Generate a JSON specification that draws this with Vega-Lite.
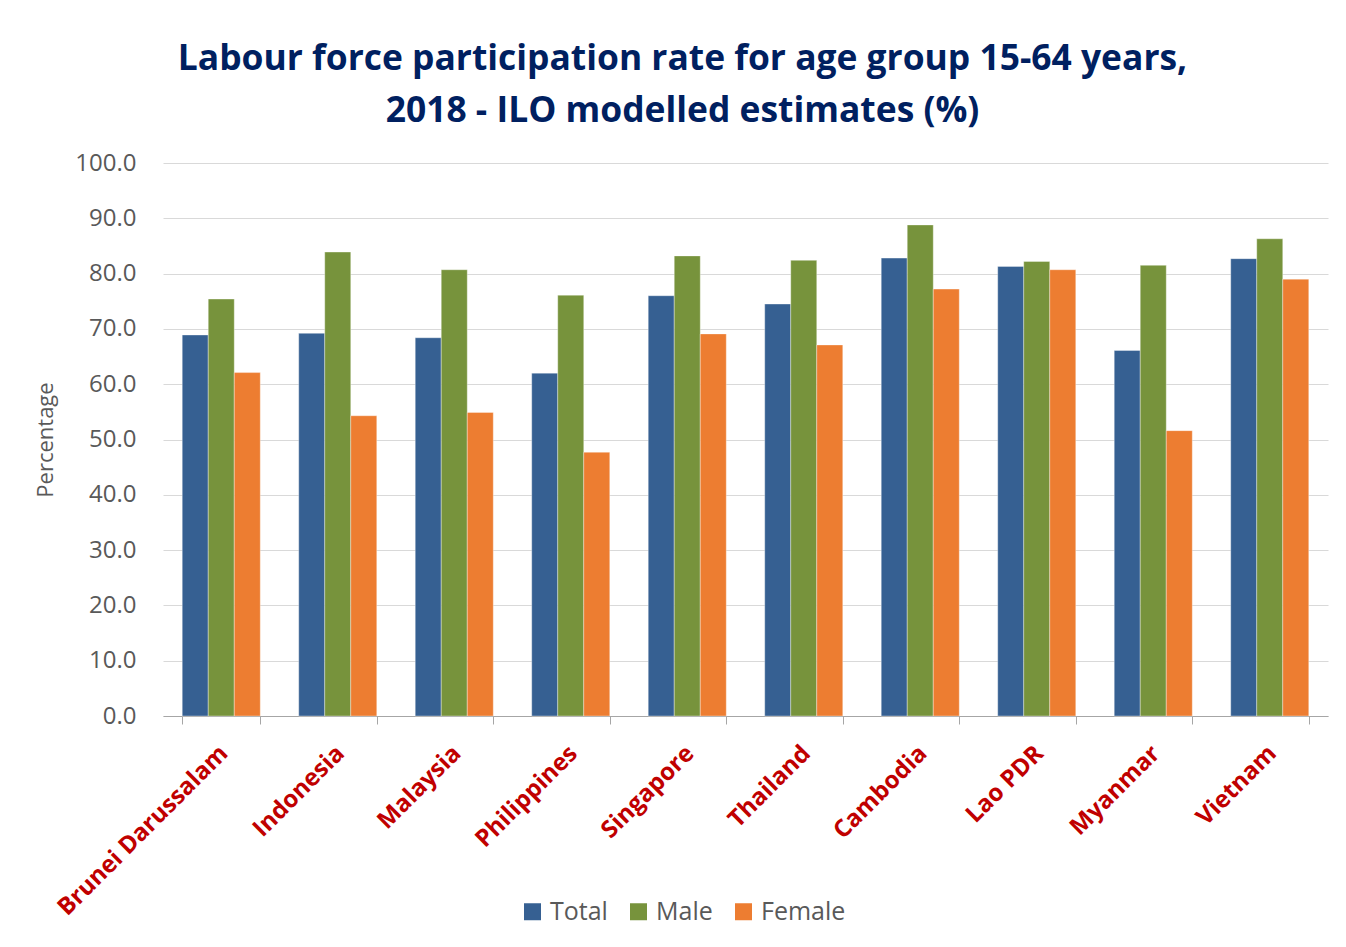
{
  "$schema": "https://vega.github.io/schema/vega-lite/v6.json",
  "width": 1165,
  "height": 553,
  "autosize": {"type": "none"},
  "padding": {"left": 163, "top": 163, "right": 18, "bottom": 231},
  "background": "white",
  "title": {
    "text": ["Labour force participation rate for age group 15-64 years,", "2018 - ILO modelled estimates (%)"],
    "font": "Open Sans",
    "fontSize": 35.4,
    "fontWeight": "bold",
    "color": "#002060",
    "anchor": "middle",
    "dx": -63,
    "offset": 22,
    "lineHeight": 52
  },
  "data": {
    "values": [
      {"country": "Brunei Darussalam", "sex": "Total", "value": 68.9},
      {"country": "Brunei Darussalam", "sex": "Male", "value": 75.4},
      {"country": "Brunei Darussalam", "sex": "Female", "value": 62.1},
      {"country": "Indonesia", "sex": "Total", "value": 69.2},
      {"country": "Indonesia", "sex": "Male", "value": 83.9},
      {"country": "Indonesia", "sex": "Female", "value": 54.3},
      {"country": "Malaysia", "sex": "Total", "value": 68.4},
      {"country": "Malaysia", "sex": "Male", "value": 80.7},
      {"country": "Malaysia", "sex": "Female", "value": 54.9},
      {"country": "Philippines", "sex": "Total", "value": 62.0},
      {"country": "Philippines", "sex": "Male", "value": 76.1},
      {"country": "Philippines", "sex": "Female", "value": 47.7},
      {"country": "Singapore", "sex": "Total", "value": 76.0},
      {"country": "Singapore", "sex": "Male", "value": 83.2},
      {"country": "Singapore", "sex": "Female", "value": 69.1},
      {"country": "Thailand", "sex": "Total", "value": 74.5},
      {"country": "Thailand", "sex": "Male", "value": 82.4},
      {"country": "Thailand", "sex": "Female", "value": 67.1},
      {"country": "Cambodia", "sex": "Total", "value": 82.8},
      {"country": "Cambodia", "sex": "Male", "value": 88.8},
      {"country": "Cambodia", "sex": "Female", "value": 77.2},
      {"country": "Lao PDR", "sex": "Total", "value": 81.3},
      {"country": "Lao PDR", "sex": "Male", "value": 82.2},
      {"country": "Lao PDR", "sex": "Female", "value": 80.7},
      {"country": "Myanmar", "sex": "Total", "value": 66.1},
      {"country": "Myanmar", "sex": "Male", "value": 81.5},
      {"country": "Myanmar", "sex": "Female", "value": 51.6},
      {"country": "Vietnam", "sex": "Total", "value": 82.7},
      {"country": "Vietnam", "sex": "Male", "value": 86.3},
      {"country": "Vietnam", "sex": "Female", "value": 79.0}
    ]
  },
  "mark": {"type": "bar", "stroke": "#ffffff", "strokeWidth": 0.6, "strokeOpacity": 0.6},
  "encoding": {
    "x": {
      "field": "country",
      "type": "nominal",
      "sort": null,
      "scale": {"paddingInner": 0.33, "paddingOuter": 0.165},
      "axis": {
        "title": null,
        "labelAngle": -45,
        "labelFont": "Open Sans",
        "labelFontSize": 24,
        "labelFontWeight": "bold",
        "labelColor": "#C00000",
        "labelPadding": 17,
        "labelOffset": -6,
        "labelLimit": 500,
        "domainColor": "#A6A6A6",
        "tickColor": "#A6A6A6",
        "tickSize": 8,
        "tickBand": "extent",
        "grid": false
      }
    },
    "xOffset": {
      "field": "sex",
      "type": "nominal",
      "sort": ["Total", "Male", "Female"],
      "scale": {"paddingInner": 0, "paddingOuter": 0}
    },
    "y": {
      "field": "value",
      "type": "quantitative",
      "scale": {"domain": [0, 100]},
      "axis": {
        "title": "Percentage",
        "titleFont": "Open Sans",
        "titleFontSize": 22,
        "titleFontWeight": "normal",
        "titleColor": "#595959",
        "titlePadding": 17,
        "values": [0, 10, 20, 30, 40, 50, 60, 70, 80, 90, 100],
        "format": ".1f",
        "labelFont": "Open Sans",
        "labelFontSize": 24,
        "labelColor": "#595959",
        "labelPadding": 27,
        "domain": false,
        "ticks": false,
        "tickSize": 0,
        "gridColor": "#D9D9D9",
        "gridWidth": 1.2
      }
    },
    "color": {
      "field": "sex",
      "type": "nominal",
      "scale": {"domain": ["Total", "Male", "Female"], "range": ["#366092", "#77933C", "#ED7D31"]},
      "legend": {
        "title": null,
        "orient": "none",
        "direction": "horizontal",
        "legendX": 357,
        "legendY": 736,
        "symbolType": "square",
        "symbolSize": 289,
        "symbolStrokeWidth": 0,
        "symbolOpacity": 1,
        "labelFont": "Open Sans",
        "labelFontSize": 25,
        "labelColor": "#595959",
        "labelOffset": 5,
        "columnPadding": 18
      }
    }
  },
  "config": {
    "view": {"stroke": null}
  }
}
